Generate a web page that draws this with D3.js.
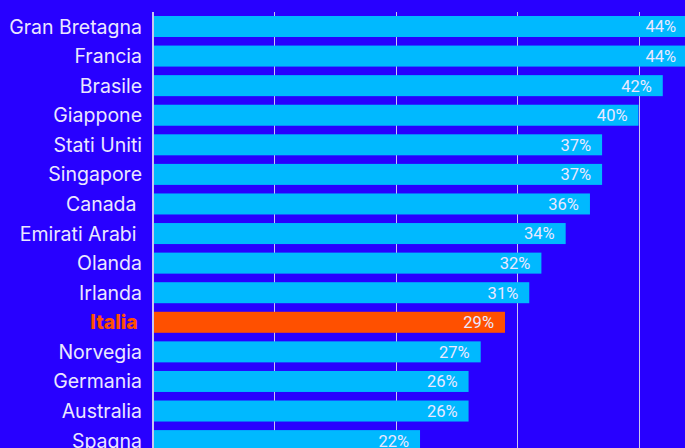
<!DOCTYPE html>
<html lang="it">
<head>
    <meta charset="UTF-8">
    <title>Paesi</title>
    <script src="https://d3js.org/d3.v7.min.js"></script>
    <style>
        body { margin: 0; background: #2800ff; }
        svg { display: block; font-family: Roboto, "Noto Sans", sans-serif; }
        .label { fill: #ebe8ff; font-family: Inter, Roboto, sans-serif; font-size: 19.5px; white-space: pre; }
        .label.hl { fill: #ff5000; font-weight: 800; }
        .value { fill: #ebe8ff; font-size: 16.5px; }
    </style>
</head>
<body>
    <svg width="685" height="448"></svg>
    <script>
        // Data
        const countries = ["Gran Bretagna", "Francia", "Brasile", "Giappone", "Stati Uniti", "Singapore",
            "Canada ", "Emirati Arabi ", "Olanda", "Irlanda", "Italia ", "Norvegia", "Germania", "Australia", "Spagna"];
        const values = [44, 44, 42, 40, 37, 37, 36, 34, 32, 31, 29, 27, 26, 26, 22];
        const gridTicks = [10, 20, 30, 40];
        const highlight = "Italia ";

        const data = countries.map((c, i) => ({ country: c, value: values[i] }));

        const svg = d3.select("svg");
        const W = 685, H = 448;

        svg.append("rect").attr("width", W).attr("height", H).attr("fill", "#2800ff");

        const x = d3.scaleLinear()
            .domain([0, 40])
            .range([153, 638.5]);

        const y = d3.scaleBand()
            .domain(countries)
            .range([11.7, 11.7 + 29.58 * countries.length])
            .paddingInner(0.29)
            .paddingOuter(0.145);

        // grid lines
        svg.append("g")
            .selectAll("line")
            .data(gridTicks)
            .join("line")
            .attr("x1", d => Math.round(x(d)) + 0.5)
            .attr("x2", d => Math.round(x(d)) + 0.5)
            .attr("y1", 12)
            .attr("y2", H)
            .attr("stroke", "#c9c6ee")
            .attr("stroke-width", 1);

        // bars
        svg.append("g")
            .selectAll("rect")
            .data(data)
            .join("rect")
            .attr("x", x(0))
            .attr("y", d => y(d.country))
            .attr("width", d => x(d.value) - x(0))
            .attr("height", y.bandwidth())
            .attr("fill", d => d.country === highlight ? "#ff5000" : "#00b9ff");

        // axis line at zero
        svg.append("line")
            .attr("x1", x(0))
            .attr("x2", x(0))
            .attr("y1", 12)
            .attr("y2", H)
            .attr("stroke", "#c9c6ee")
            .attr("stroke-width", 2);

        // country labels
        svg.append("g")
            .selectAll("text")
            .data(data)
            .join("text")
            .attr("class", d => d.country === highlight ? "label hl" : "label")
            .attr("x", 142)
            .attr("y", d => y(d.country) + y.bandwidth() / 2)
            .attr("dy", "0.36em")
            .attr("text-anchor", "end")
            .text(d => d.country);

        // value labels
        svg.append("g")
            .selectAll("text")
            .data(data)
            .join("text")
            .attr("class", "value")
            .attr("x", d => x(d.value) - 11)
            .attr("y", d => y(d.country) + y.bandwidth() / 2)
            .attr("dy", "0.36em")
            .attr("text-anchor", "end")
            .text(d => d.value + "%");
    </script>
</body>
</html>
